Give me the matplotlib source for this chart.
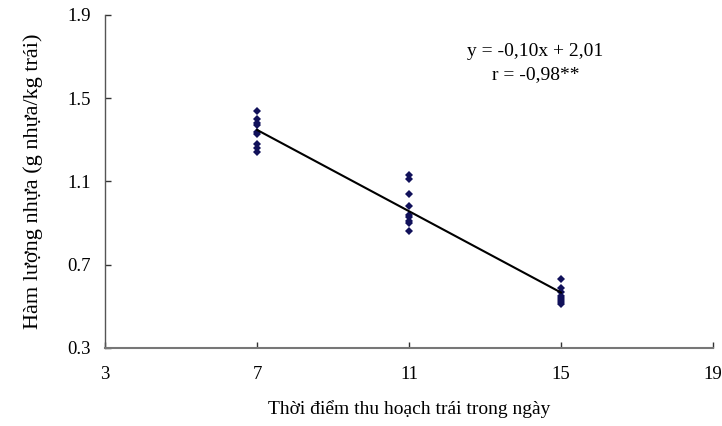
import matplotlib.pyplot as plt
import numpy as np

plt.rcParams['font.family'] = ['Liberation Serif', 'DejaVu Serif']

# harvest time (hour of day) and latex content
x7 = [7] * 9
y7 = [1.44, 1.40, 1.38, 1.37, 1.34, 1.33, 1.28, 1.26, 1.24]
x11 = [11] * 9
y11 = [1.13, 1.11, 1.04, 0.98, 0.94, 0.93, 0.91, 0.90, 0.86]
x15 = [15] * 8
y15 = [0.63, 0.59, 0.57, 0.55, 0.54, 0.53, 0.52, 0.51]

xticks = [3, 7, 11, 15, 19]
yticks = [0.3, 0.7, 1.1, 1.5, 1.9]

x = np.array(x7 + x11 + x15, dtype=float)
y = np.array(y7 + y11 + y15, dtype=float)
slope, intercept = np.polyfit(x, y, 1)

fig = plt.figure(figsize=(7.22, 4.26), dpi=100)
ax = fig.add_axes([0.1454, 0.1831, 0.8421, 0.7817])

ax.plot(x, y, linestyle='none', marker='D', markersize=4.3,
        color='#11115a', markeredgewidth=0)
xs = np.array([x.min(), x.max()])
ax.plot(xs, slope * xs + intercept, color='black', linewidth=1.5)

ax.set_xlim(3, 19)
ax.set_ylim(0.3, 1.9)
ax.set_xticks(xticks)
ax.set_yticks(yticks)
ax.set_xticklabels([str(t) for t in xticks])
ax.set_yticklabels([f"{t:.1f}" for t in yticks])

for s in ['top', 'right']:
    ax.spines[s].set_visible(False)
ax.spines['left'].set_color('#555555')
ax.spines['bottom'].set_color('#777777')
ax.spines['left'].set_linewidth(1.0)
ax.spines['bottom'].set_linewidth(1.5)
ax.tick_params(axis='both', direction='in', length=4, width=1, colors='#333333',
               labelcolor='black', labelsize=13.5)
ax.tick_params(axis='x', pad=13)
ax.tick_params(axis='y', pad=10)

ax.set_xlabel("Thời điểm thu hoạch trái trong ngày", fontsize=14, labelpad=12)
ax.set_ylabel("Hàm lượng nhựa (g nhựa/kg trái)", fontsize=16, labelpad=18)

ax.text(0.708, 0.855, "y = -0,10x + 2,01\nr = -0,98**", transform=ax.transAxes,
        ha='center', va='center', fontsize=14, linespacing=1.45)

fig.savefig('out.png', dpi=100)
